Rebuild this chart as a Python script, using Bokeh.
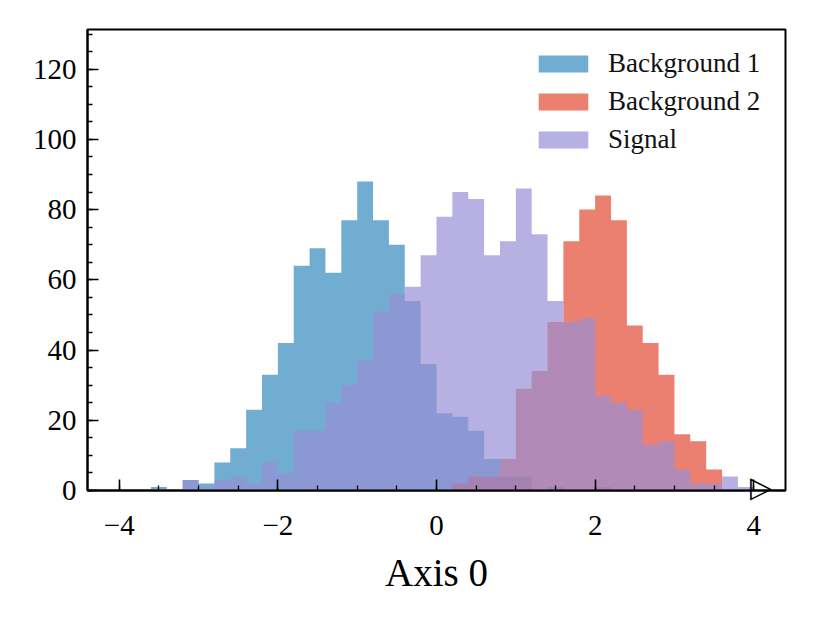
import numpy as np
from bokeh.plotting import figure
from bokeh.models import SingleIntervalTicker, Legend, LegendItem, LinearAxis, FixedTicker
from bokeh.embed import file_html
from bokeh.resources import INLINE

# ---- data (histogram counts per bin, bins of width 0.2 from -3.6 to 4.0) ----
edge_start = -3.6
bin_width = 0.2
n_bins = 38
edges = [round(edge_start + bin_width * i, 1) for i in range(n_bins + 1)]

background1 = [1, 0, 3, 2, 8, 12, 23, 33, 42, 64, 69, 62, 77, 88, 77, 70, 54, 36, 22,
               21, 17, 9, 4, 4, 0, 1, 0, 0, 1, 0, 0, 0, 0, 0, 0, 0, 0, 0]
background2 = [0, 0, 0, 0, 0, 0, 0, 0, 0, 0, 0, 0, 0, 0, 0, 0, 0, 0, 0,
               2, 4, 4, 9, 29, 34, 48, 71, 80, 84, 77, 47, 42, 33, 16, 14, 6, 0, 0]
signal = [0, 0, 3, 1, 3, 4, 2, 8, 5, 17, 17, 25, 30, 37, 51, 56, 58, 67, 78,
          85, 83, 67, 71, 86, 73, 54, 48, 49, 27, 25, 23, 13, 14, 6, 2, 2, 4, 1]

series_names = ["Background 1", "Background 2", "Signal"]
series_colors = ["#348ABD", "#E24A33", "#988ED5"]
x_tick_values = [-4, -2, 0, 2, 4]
x_tick_labels = ["\u22124", "\u22122", "0", "2", "4"]
axis_title = "Axis 0"
overflow_marker_x = 4.09   # flow marker just past the last bin edge

FONT = "Liberation Serif"

p = figure(width=800, height=600, x_range=(-4.4, 4.4), y_range=(0, 131.3),
           output_backend="svg", toolbar_location=None,
           min_border_left=87, min_border_right=15, min_border_top=29, min_border_bottom=110)
p.background_fill_color = "white"
p.border_fill_color = "white"
p.grid.visible = False
p.outline_line_color = "black"
p.outline_line_width = 2
p.outline_line_alpha = 1

renderers = []
for vals, col in zip([background1, background2, signal], series_colors):
    r = p.varea_step(x=edges, y1=[0] * (n_bins + 1), y2=list(vals) + [vals[-1]],
                     step_mode="after", fill_color=col, fill_alpha=0.7)
    renderers.append(r)

legend = Legend(items=[LegendItem(label=n, renderers=[r]) for n, r in zip(series_names, renderers)],
                location=(445, 335), orientation="vertical")
legend.border_line_alpha = 0
legend.background_fill_alpha = 0
legend.padding = 0
legend.margin = 0
legend.spacing = 7
legend.glyph_width = 62
legend.glyph_height = 21
legend.label_height = 30
legend.label_standoff = 14
legend.label_text_font = FONT
legend.label_text_font_size = "27px"
legend.label_text_color = "#111111"
p.add_layout(legend, "center")

# y axis
yax = p.yaxis[0]
yax.ticker = SingleIntervalTicker(interval=20, num_minor_ticks=4)
yax.major_tick_in = 11
yax.major_tick_out = 0
yax.minor_tick_in = 5
yax.minor_tick_out = 0
yax.major_tick_line_width = 1.6
yax.minor_tick_line_width = 1.3
yax.major_tick_line_color = "black"
yax.minor_tick_line_color = "black"
yax.axis_line_width = 2
yax.axis_line_color = "black"
yax.major_label_text_font = FONT
yax.major_label_text_font_size = "29px"
yax.major_label_text_color = "black"
yax.major_label_standoff = 11

# x axis: labels (numbers on a second line) plus the overflow marker on the first line
xax = p.xaxis[0]
overrides = {v: "\n" + t for v, t in zip(x_tick_values, x_tick_labels)}
overrides[overflow_marker_x] = "\u25B7"
xax.ticker = FixedTicker(ticks=x_tick_values + [overflow_marker_x], minor_ticks=[])
xax.major_label_overrides = overrides
xax.major_tick_in = 0
xax.major_tick_out = 0
xax.minor_tick_in = 0
xax.minor_tick_out = 0
xax.axis_line_width = 2
xax.axis_line_color = "black"
xax.major_label_text_font = FONT
xax.major_label_text_font_size = "29px"
xax.major_label_text_line_height = 1.2
xax.major_label_text_color = "black"
xax.major_label_standoff = -20
xax.axis_label = axis_title
xax.axis_label_text_font = FONT
xax.axis_label_text_font_size = "39px"
xax.axis_label_text_font_style = "normal"
xax.axis_label_text_color = "black"
xax.axis_label_standoff = 7

# inward tick marks of the x axis, drawn at y = 0 by a zero-size axis
tick_axis = LinearAxis(fixed_location=0, ticker=SingleIntervalTicker(interval=2, num_minor_ticks=4))
tick_axis.axis_line_alpha = 0
tick_axis.major_label_text_alpha = 0
tick_axis.major_tick_in = 11
tick_axis.major_tick_out = 0
tick_axis.minor_tick_in = 5
tick_axis.minor_tick_out = 0
tick_axis.major_tick_line_width = 1.6
tick_axis.minor_tick_line_width = 1.3
tick_axis.major_tick_line_color = "black"
tick_axis.minor_tick_line_color = "black"
p.add_layout(tick_axis, "below")

open("out.html", "w").write(file_html(p, INLINE))
